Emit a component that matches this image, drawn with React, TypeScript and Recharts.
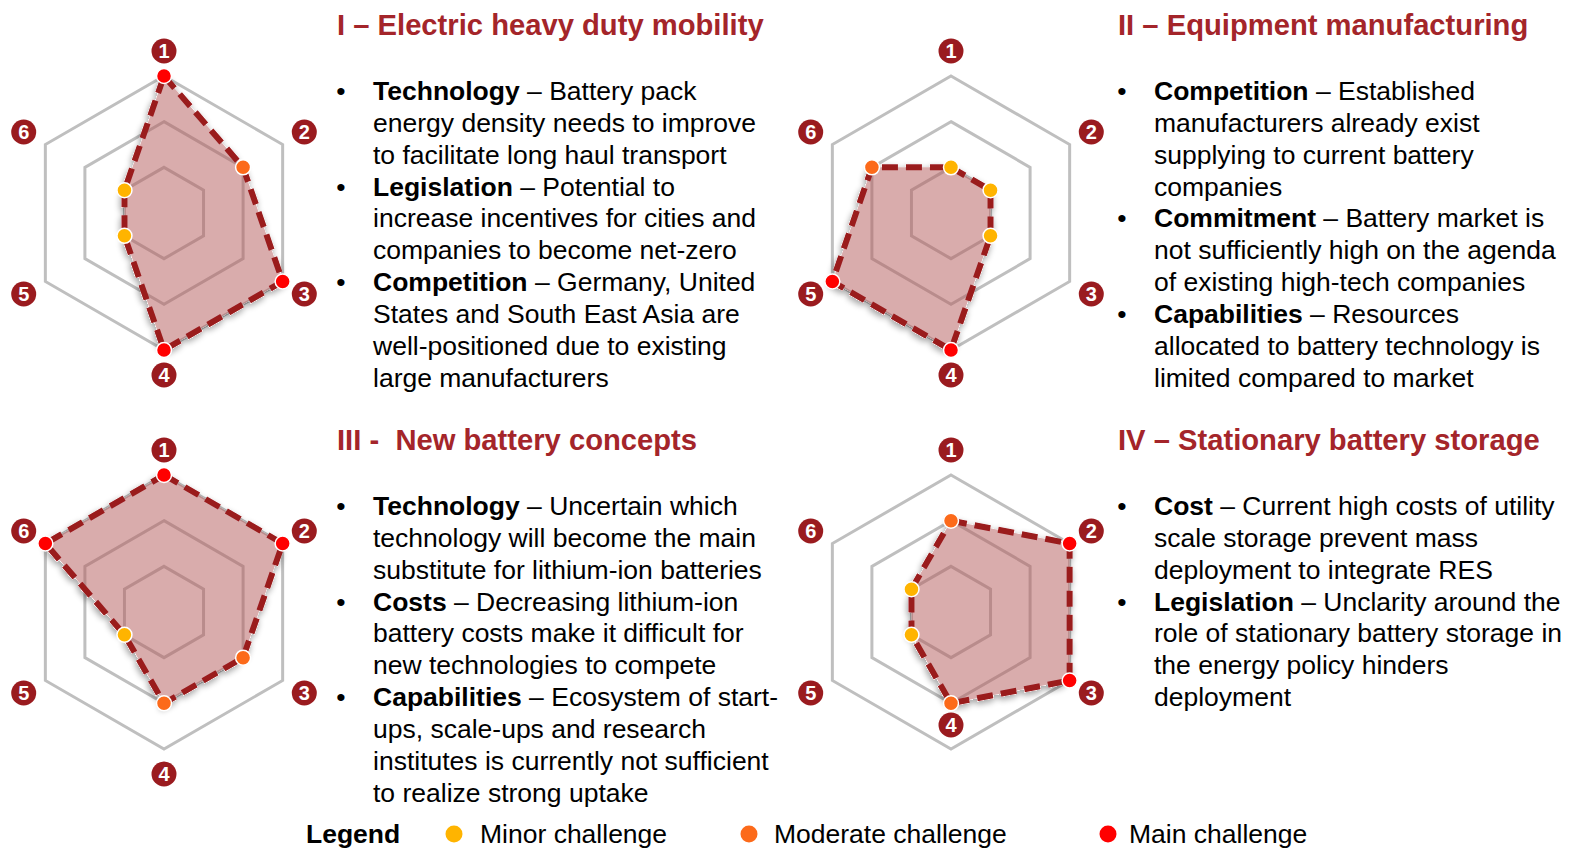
import React from 'react';
import { RadarChart, Radar, PolarGrid, PolarAngleAxis, PolarRadiusAxis } from 'recharts';

// six dimensions, scored 1 (minor) .. 3 (main challenge)
const axisLabels = ['1', '2', '3', '4', '5', '6'];
const mobilityScores = [3, 2, 3, 3, 1, 1];
const manufacturingScores = [1, 1, 1, 3, 3, 2];
const conceptScores = [3, 3, 2, 2, 1, 3];
const storageScores = [2, 3, 3, 2, 1, 1];

const levelNames = ['Minor challenge', 'Moderate challenge', 'Main challenge'];
const levelColors = ['#ffb400', '#fc6a1a', '#ff0000'];

const FONT = '"Liberation Sans", Arial, sans-serif';
const DARK_RED = '#9a1b1f';
const TITLE_RED = '#a4252a';

const blocks = [
  {
    x: 337, y: 35, title: 'I – Electric heavy duty mobility',
    bullets: [
      { head: 'Technology', lines: [' – Battery pack', 'energy density needs to improve', 'to facilitate long haul transport'] },
      { head: 'Legislation', lines: [' – Potential to', 'increase incentives for cities and', 'companies to become net-zero'] },
      { head: 'Competition', lines: [' – Germany, United', 'States and South East Asia are', 'well-positioned due to existing', 'large manufacturers'] },
    ],
  },
  {
    x: 1118, y: 35, title: 'II – Equipment manufacturing',
    bullets: [
      { head: 'Competition', lines: [' – Established', 'manufacturers already exist', 'supplying to current battery', 'companies'] },
      { head: 'Commitment', lines: [' – Battery market is', 'not sufficiently high on the agenda', 'of existing high-tech companies'] },
      { head: 'Capabilities', lines: [' – Resources', 'allocated to battery technology is', 'limited compared to market'] },
    ],
  },
  {
    x: 337, y: 450, title: 'III -  New battery concepts',
    bullets: [
      { head: 'Technology', lines: [' – Uncertain which', 'technology will become the main', 'substitute for lithium-ion batteries'] },
      { head: 'Costs', lines: [' – Decreasing lithium-ion', 'battery costs make it difficult for', 'new technologies to compete'] },
      { head: 'Capabilities', lines: [' – Ecosystem of start-', 'ups, scale-ups and research', 'institutes is currently not sufficient', 'to realize strong uptake'] },
    ],
  },
  {
    x: 1118, y: 450, title: 'IV – Stationary battery storage',
    bullets: [
      { head: 'Cost', lines: [' – Current high costs of utility', 'scale storage prevent mass', 'deployment to integrate RES'] },
      { head: 'Legislation', lines: [' – Unclarity around the', 'role of stationary battery storage in', 'the energy policy hinders', 'deployment'] },
    ],
  },
];

const LINE = 31.85;

type HexProps = { id: string; scores: number[]; left: number; top: number; cx: number; cy: number; innerLabel?: string };

const HexRadar = ({ id, scores, left, top, cx, cy, innerLabel }: HexProps) => {
  const data = axisLabels.map((a, i) => ({ axis: a, score: scores[i] }));

  const renderTick = (props: any) => {
    const { x, y, payload } = props;
    const dx = x - cx;
    const dy = y - cy;
    const len = Math.hypot(dx, dy) || 1;
    const r = payload.value === innerLabel ? 113 : 162;
    const tx = cx + (dx / len) * r;
    const ty = cy + (dy / len) * r;
    return (
      <g>
        <circle cx={tx} cy={ty} r={12.5} fill={DARK_RED} />
        <text x={tx} y={ty + 7} textAnchor="middle" fill="#fff" fontSize={20} fontWeight="bold" fontFamily={FONT}>
          {payload.value}
        </text>
      </g>
    );
  };

  const renderDot = (props: any) => {
    const { cx: px, cy: py, index } = props;
    return (
      <circle key={`dot-${index}`} cx={px} cy={py} r={7.5} fill={levelColors[scores[index] - 1]} stroke="#fff" strokeWidth={1.5} />
    );
  };

  return (
    <div style={{ position: 'absolute', left, top }}>
      <RadarChart width={340} height={420} data={data} cx={cx} cy={cy} outerRadius={137} margin={{ top: 0, right: 0, bottom: 0, left: 0 }}>
        <defs>
          <filter id={`shadow-${id}`} x="-20%" y="-20%" width="140%" height="140%">
            <feColorMatrix in="SourceAlpha" type="matrix" values="0 0 0 0 0  0 0 0 0 0  0 0 0 0 0  0 0 0 20 0" result="solid" />
            <feGaussianBlur in="solid" stdDeviation="3" result="blur" />
            <feOffset in="blur" dx="-1" dy="3" result="off" />
            <feComponentTransfer in="off" result="soft">
              <feFuncA type="linear" slope="0.35" />
            </feComponentTransfer>
            <feComposite in="soft" in2="solid" operator="out" result="outer" />
            <feMerge>
              <feMergeNode in="outer" />
              <feMergeNode in="SourceGraphic" />
            </feMerge>
          </filter>
        </defs>
        <PolarGrid gridType="polygon" radialLines={false} stroke="#bfbfbf" strokeWidth={3} />
        <PolarRadiusAxis domain={[0, 3]} tickCount={4} tick={false} axisLine={false} />
        <PolarAngleAxis dataKey="axis" tick={renderTick} axisLine={false} tickLine={false} />
        <Radar
          dataKey="score"
          stroke={DARK_RED}
          strokeWidth={6}
          strokeDasharray="16 8"
          fill="#b35a5a"
          fillOpacity={0.5}
          filter={`url(#shadow-${id})`}
          dot={renderDot}
          isAnimationActive={false}
        />
      </RadarChart>
    </div>
  );
};

const legendDotX = [454, 749, 1108];
const legendTextX = [480, 774, 1129];

export default function App() {
  return (
    <div style={{ position: 'absolute', left: 0, top: 0, width: 1585, height: 849, background: '#fff', overflow: 'hidden' }}>
      <HexRadar id="a" scores={mobilityScores} left={0} top={0} cx={164} cy={213} />
      <HexRadar id="b" scores={manufacturingScores} left={780} top={0} cx={171} cy={213} />
      <HexRadar id="c" scores={conceptScores} left={0} top={400} cx={164} cy={212} />
      <HexRadar id="d" scores={storageScores} left={780} top={400} cx={171} cy={212} innerLabel="4" />

      <svg width={1585} height={849} style={{ position: 'absolute', left: 0, top: 0, pointerEvents: 'none' }} fontFamily={FONT}>
        {blocks.map((b) => {
          let row = 0;
          return (
            <g key={b.title}>
              <text x={b.x} y={b.y} fontSize={29.2} fontWeight="bold" fill={TITLE_RED} style={{ whiteSpace: 'pre' }}>
                {b.title}
              </text>
              {b.bullets.map((bl) =>
                bl.lines.map((ln, j) => {
                  const y = b.y + 65 + row * LINE;
                  row += 1;
                  return (
                    <g key={`${bl.head}-${j}`}>
                      {j === 0 && (
                        <text x={b.x + 4} y={y} fontSize={26.5} textAnchor="middle" fill="#000">•</text>
                      )}
                      <text x={b.x + 36} y={y} fontSize={26.5} fill="#000" style={{ whiteSpace: 'pre' }}>
                        {j === 0 && <tspan fontWeight="bold">{bl.head}</tspan>}
                        <tspan>{ln}</tspan>
                      </text>
                    </g>
                  );
                })
              )}
            </g>
          );
        })}

        <text x={306} y={843} fontSize={26.5} fontWeight="bold" fill="#000">Legend</text>
        {levelNames.map((name, i) => (
          <g key={name}>
            <circle cx={legendDotX[i]} cy={834} r={8.5} fill={levelColors[i]} />
            <text x={legendTextX[i]} y={843} fontSize={26.5} fill="#000">{name}</text>
          </g>
        ))}
      </svg>
    </div>
  );
}
